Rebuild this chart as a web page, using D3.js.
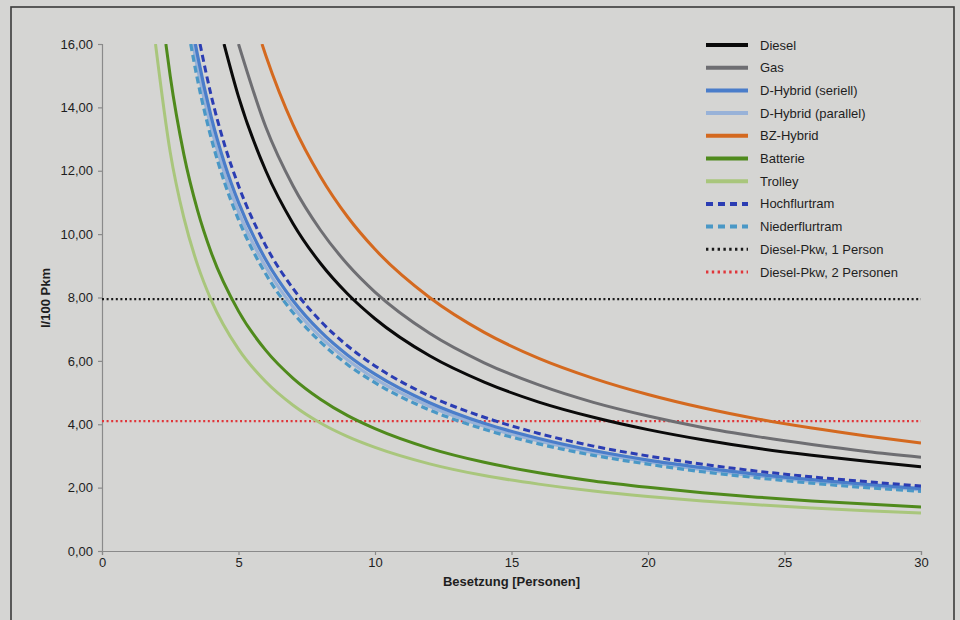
<!DOCTYPE html>
<html><head><meta charset="utf-8">
<script src="https://cdn.jsdelivr.net/npm/d3@7"></script>
<style>
html,body{margin:0;padding:0;background:#d5d5d3;}
svg{display:block;font-family:"Liberation Sans",Arial,sans-serif;}
</style></head>
<body>
<svg id="c" width="960" height="620"></svg>
<script>
// ---- data ----
const seriesNames = ["Diesel","Gas","D-Hybrid (seriell)","D-Hybrid (parallel)","BZ-Hybrid","Batterie","Trolley","Hochflurtram","Niederflurtram"];
const xDiesel = [4.47,5,6,7,8,9,10,12,14,16,18,20,22,24,26,28,30];
const yDiesel = [16.0,14.34,12.00,10.33,9.08,8.11,7.33,6.16,5.33,4.70,4.22,3.83,3.51,3.24,3.02,2.83,2.66];
const xGas = [5.0,6,7,8,9,10,12,14,16,18,20,22,24,26,28,30];
const yGas = [16.0,13.38,11.52,10.13,9.04,8.17,6.87,5.94,5.24,4.69,4.26,3.90,3.61,3.36,3.14,2.96];
const xSeriell = [3.42,3.5,4,4.5,5,6,7,8,9,10,12,14,16,18,20,22,24,26,28,30];
const ySeriell = [16.0,15.64,13.70,12.20,11.00,9.19,7.90,6.93,6.18,5.58,4.68,4.03,3.55,3.17,2.87,2.63,2.42,2.25,2.10,1.97];
const xParallel = [3.33,3.5,4,4.5,5,6,7,8,9,10,12,14,16,18,20,22,24,26,28,30];
const yParallel = [16.0,15.23,13.35,11.88,10.71,8.96,7.70,6.76,6.03,5.44,4.57,3.94,3.47,3.10,2.81,2.57,2.37,2.20,2.06,1.93];
const xBZ = [5.86,6,7,8,9,10,12,14,16,18,20,22,24,26,28,30];
const yBZ = [16.0,15.64,13.45,11.82,10.54,9.52,8.00,6.90,6.08,5.45,4.94,4.52,4.17,3.88,3.63,3.41];
const xBatterie = [2.34,2.5,3,3.5,4,5,6,7,8,9,10,12,14,16,18,20,22,24,26,28,30];
const yBatterie = [16.0,14.98,12.51,10.75,9.42,7.57,6.33,5.45,4.79,4.27,3.86,3.24,2.80,2.47,2.21,2.01,1.84,1.70,1.58,1.48,1.39];
const xTrolley = [1.96,2.5,3,3.5,4,5,6,7,8,9,10,12,14,16,18,20,22,24,26,28,30];
const yTrolley = [16.0,12.58,10.51,9.03,7.92,6.37,5.34,4.60,4.04,3.61,3.27,2.75,2.38,2.11,1.89,1.72,1.58,1.46,1.36,1.27,1.20];
const xHoch = [3.59,4,4.5,5,6,7,8,9,10,12,14,16,18,20,22,24,26,28,30];
const yHoch = [16.0,14.37,12.79,11.53,9.63,8.28,7.26,6.47,5.84,4.89,4.22,3.71,3.31,3.00,2.74,2.52,2.34,2.19,2.05];
const xNieder = [3.25,3.5,4,4.5,5,6,7,8,9,10,12,14,16,18,20,22,24,26,28,30];
const yNieder = [16.0,14.87,13.03,11.60,10.46,8.74,7.52,6.60,5.88,5.31,4.45,3.84,3.38,3.02,2.74,2.50,2.31,2.14,2.00,1.88];
const refNames = ["Diesel-Pkw, 1 Person","Diesel-Pkw, 2 Personen"];
const refValues = [7.95, 4.1];
const xTicks = [0,5,10,15,20,25,30];
const yTicks = [0,2,4,6,8,10,12,14,16];

// ---- styles ----
const curves = [
  {name:seriesNames[0], x:xDiesel,   y:yDiesel,   color:"#0a0a0a", w:3,   dash:null},
  {name:seriesNames[1], x:xGas,      y:yGas,      color:"#6e6e72", w:3,   dash:null},
  {name:seriesNames[2], x:xSeriell,  y:ySeriell,  color:"#4a7dca", w:3.2, dash:null},
  {name:seriesNames[3], x:xParallel, y:yParallel, color:"#98b2d8", w:3.2, dash:null},
  {name:seriesNames[4], x:xBZ,       y:yBZ,       color:"#d4691f", w:3,   dash:null},
  {name:seriesNames[5], x:xBatterie, y:yBatterie, color:"#4f8a1c", w:3,   dash:null},
  {name:seriesNames[6], x:xTrolley,  y:yTrolley,  color:"#a9c67c", w:3,   dash:null},
  {name:seriesNames[7], x:xHoch,     y:yHoch,     color:"#2b3db3", w:3,   dash:"7,4"},
  {name:seriesNames[8], x:xNieder,   y:yNieder,   color:"#4a98c6", w:3.2, dash:"7,4"}
];
const drawOrder = [6,5,3,8,2,7,0,1,4];
const refs = [
  {name:refNames[0], v:refValues[0], color:"#1a1a1a"},
  {name:refNames[1], v:refValues[1], color:"#e0363a"}
];

const svg = d3.select("#c");
svg.append("rect").attr("x",11).attr("y",7).attr("width",943).attr("height",630)
  .attr("fill","#d5d5d3").attr("stroke","#3a3a3a").attr("stroke-width",1.6);

const x = d3.scaleLinear().domain([0,30]).range([102,921]);
const y = d3.scaleLinear().domain([0,16]).range([551,44]);

svg.append("defs").append("clipPath").attr("id","pc")
  .append("rect").attr("x",102).attr("y",44).attr("width",819).attr("height",507);

// axes
const fmt = d => d3.format(".2f")(d).replace(".",",");
const yAx = svg.append("g").attr("transform","translate(102,0)")
  .call(d3.axisLeft(y).tickValues(yTicks).tickFormat(fmt).tickSize(4).tickPadding(5));
const xAx = svg.append("g").attr("transform","translate(0,551)")
  .call(d3.axisBottom(x).tickValues(xTicks).tickSize(4).tickPadding(3));
[yAx,xAx].forEach(g=>{
  g.selectAll("path,line").attr("stroke","#8a8a8a").attr("stroke-width",1.2);
  g.selectAll("text").attr("fill","#1e1e1e").style("font-size","13px");
});

// reference lines
const pl = svg.append("g").attr("clip-path","url(#pc)");
refs.forEach(r=>{
  pl.append("line").attr("x1",x(0)).attr("x2",x(30)).attr("y1",y(r.v)).attr("y2",y(r.v))
    .attr("stroke",r.color).attr("stroke-width",2.2).attr("stroke-dasharray","2,2.6");
});

const line = d3.line().x(d=>x(d[0])).y(d=>y(d[1])).curve(d3.curveMonotoneX);
drawOrder.forEach(i=>{
  const c = curves[i];
  const pts = c.x.map((v,j)=>[v,c.y[j]]);
  pl.append("path").datum(pts).attr("d",line).attr("fill","none")
    .attr("stroke",c.color).attr("stroke-width",c.w)
    .attr("stroke-dasharray",c.dash);
});

// axis titles
svg.append("text").attr("x",x(15)).attr("y",586).attr("text-anchor","middle")
  .attr("font-weight","bold").attr("font-size",13).attr("fill","#1e1e1e").text("Besetzung [Personen]");
svg.append("text").attr("transform","translate(50,298) rotate(-90)").attr("text-anchor","middle")
  .attr("font-weight","bold").attr("font-size",13).attr("fill","#1e1e1e").text("l/100 Pkm");

// legend
const lg = svg.append("g");
const items = curves.map(c=>({name:c.name,color:c.color,dash:c.dash?"7,5":null,w:4}))
  .concat(refs.map(r=>({name:r.name,color:r.color,dash:"2.4,3.4",w:3})));
items.forEach((it,i)=>{
  const yy = 45 + i*22.7;
  lg.append("line").attr("x1",706).attr("x2",748).attr("y1",yy).attr("y2",yy)
    .attr("stroke",it.color).attr("stroke-width",it.w).attr("stroke-dasharray",it.dash);
  lg.append("text").attr("x",760).attr("y",yy+4.5).attr("font-size",13).attr("fill","#1e1e1e").text(it.name);
});
</script>
</body></html>
